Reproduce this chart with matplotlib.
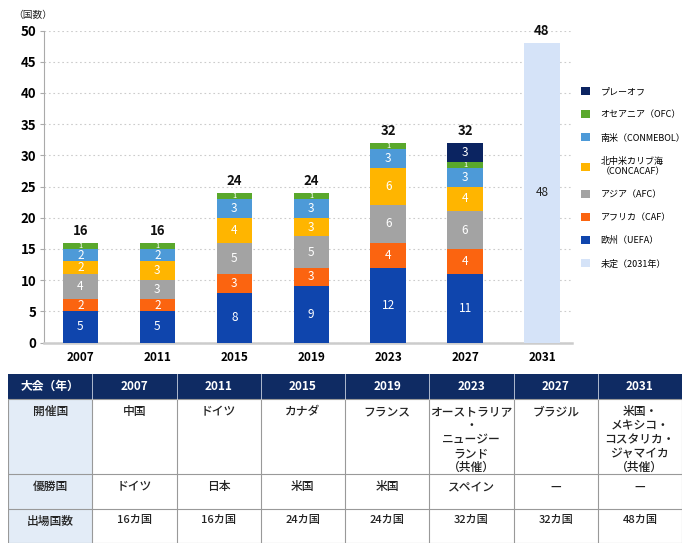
import matplotlib
matplotlib.use('Agg')
import matplotlib.pyplot as plt
from matplotlib.patches import Rectangle
import numpy as np

plt.rcParams['font.family'] = ['Noto Sans CJK JP', 'DejaVu Sans']

# data
years = ['2007', '2011', '2015', '2019', '2023', '2027', '2031']
uefa = [5, 5, 8, 9, 12, 11, 0]
caf = [2, 2, 3, 3, 4, 4, 0]
afc = [4, 3, 5, 5, 6, 6, 0]
concacaf = [2, 3, 4, 3, 6, 4, 0]
conmebol = [2, 2, 3, 3, 3, 3, 0]
ofc = [1, 1, 1, 1, 1, 1, 0]
playoff = [0, 0, 0, 0, 0, 3, 0]
undecided = [0, 0, 0, 0, 0, 0, 48]

series = [
    ('欧州（UEFA）', uefa, '#0f45ad'),
    ('アフリカ（CAF）', caf, '#fb6410'),
    ('アジア（AFC）', afc, '#a3a3a3'),
    ('北中米カリブ海\n（CONCACAF）', concacaf, '#ffb500'),
    ('南米（CONMEBOL）', conmebol, '#4d9ad8'),
    ('オセアニア（OFC）', ofc, '#5aa82c'),
    ('プレーオフ', playoff, '#0b2461'),
    ('未定（2031年）', undecided, '#d5e3f8'),
]

table_header = ['大会（年）'] + years
hosts = ['中国', 'ドイツ', 'カナダ', 'フランス',
         'オーストラリア\n・\nニュージー\nランド\n（共催）', 'ブラジル',
         '米国・\nメキシコ・\nコスタリカ・\nジャマイカ\n（共催）']
winners = ['ドイツ', '日本', '米国', '米国', 'スペイン', '—', '—']
counts = ['16カ国', '16カ国', '24カ国', '24カ国', '32カ国', '32カ国', '48カ国']
row_labels = ['開催国', '優勝国', '出場国数']

W, H = 690, 553
fig = plt.figure(figsize=(W / 100, H / 100), dpi=100)
fig.patch.set_facecolor('white')

# chart
ax = fig.add_axes([43.5 / W, (H - 342.5) / H, (572 - 43.5) / W, (342.5 - 30.5) / H])
x = np.arange(len(years))
bottom = np.zeros(len(years))
handles = []
for name, vals, color in series:
    vals = np.array(vals, dtype=float)
    b = ax.bar(x, vals, 0.46, bottom=bottom, color=color, label=name, zorder=3)
    handles.append(b)
    txt_color = '#222222' if name.startswith('未定') else 'white'
    for i, v in enumerate(vals):
        if v > 0:
            fs = 5.5 if v == 1 else 8.5
            ax.text(x[i], bottom[i] + v / 2, f'{int(v)}', ha='center', va='center',
                    color=txt_color, fontsize=fs, zorder=4)
    bottom += vals

totals = bottom
for i, t in enumerate(totals):
    ax.text(x[i], t + 0.8, f'{int(t)}', ha='center', va='bottom', fontsize=9.5,
            fontweight='bold', color='#111111')

ax.set_xlim(-0.48, 6.39)
ax.set_ylim(0, 50)
ax.set_yticks(range(0, 51, 5))
ax.set_xticks(x)
ax.set_xticklabels(years, fontweight='bold', fontsize=8.5)
ax.tick_params(axis='y', labelsize=9.5, length=3, color='#aaaaaa', pad=2)
ax.tick_params(axis='x', length=0, pad=6)
for lbl in ax.get_yticklabels():
    lbl.set_fontweight('bold')
ax.grid(axis='y', linestyle=(0, (1.5, 2.5)), color='#cccccc', linewidth=0.8, zorder=0)
for s in ['top', 'right']:
    ax.spines[s].set_visible(False)
ax.spines['left'].set_color('#aaaaaa')
ax.spines['bottom'].set_color('#cccccc')
ax.spines['bottom'].set_linewidth(1.8)
fig.text(13 / W, (H - 15) / H, '（国数）', fontsize=7, va='center', ha='left', color='#222222')

# legend: undecided at the bottom, the rest top-down in reverse stacking order
leg_order = [6, 5, 4, 3, 2, 1, 0, 7]
leg = ax.legend([handles[i] for i in leg_order], [series[i][0] for i in leg_order],
                loc='upper left', bbox_to_anchor=(1.01, 0.83), frameon=False,
                fontsize=6.5, handlelength=1.0, handleheight=1.0, labelspacing=1.55,
                handletextpad=1.2, borderaxespad=0)

# table
tx0, tx1 = 8, 682
ty0, ty1 = 374, 543
tax = fig.add_axes([tx0 / W, (H - ty1) / H, (tx1 - tx0) / W, (ty1 - ty0) / H])
tax.set_xlim(0, 8)
tax.set_ylim(ty1 - ty0, 0)
tax.axis('off')
rows_y = [0, 25, 100, 135, 169]

tax.add_patch(Rectangle((0, 0), 8, 25, facecolor='#0f2b63', edgecolor='none'))
tax.add_patch(Rectangle((0, 25), 1, 144, facecolor='#e3ecf7', edgecolor='none'))
for yy in rows_y[1:]:
    tax.plot([0, 8], [yy, yy], color='#999999', lw=0.8)
for c in range(1, 8):
    tax.plot([c, c], [25, 169], color='#999999', lw=0.8)
    tax.plot([c, c], [0, 25], color='#c8d0e0', lw=0.6)
tax.plot([0, 0], [25, 169], color='#999999', lw=0.8)
tax.plot([8, 8], [25, 169], color='#999999', lw=0.8)

for c, h in enumerate(table_header):
    tax.text(c + 0.5, 12.5, h, ha='center', va='center', color='white',
             fontweight='bold', fontsize=8.5)
for r, lbl in enumerate(row_labels):
    tax.text(0.5, rows_y[r + 1] + 6, lbl, ha='center', va='top', fontsize=8.5,
             color='#222222', fontweight='medium')
for c in range(len(years)):
    tax.text(c + 1.5, rows_y[1] + 6, hosts[c], ha='center', va='top', fontsize=8.5,
             color='#222222', linespacing=1.1, fontweight='medium')
    tax.text(c + 1.5, rows_y[2] + 6, winners[c], ha='center', va='top', fontsize=8.5,
             color='#222222', fontweight='medium')
    tax.text(c + 1.5, rows_y[3] + 6, counts[c], ha='center', va='top', fontsize=8,
             color='#222222', fontweight='medium')

fig.savefig('out.png', dpi=100, facecolor='white')
